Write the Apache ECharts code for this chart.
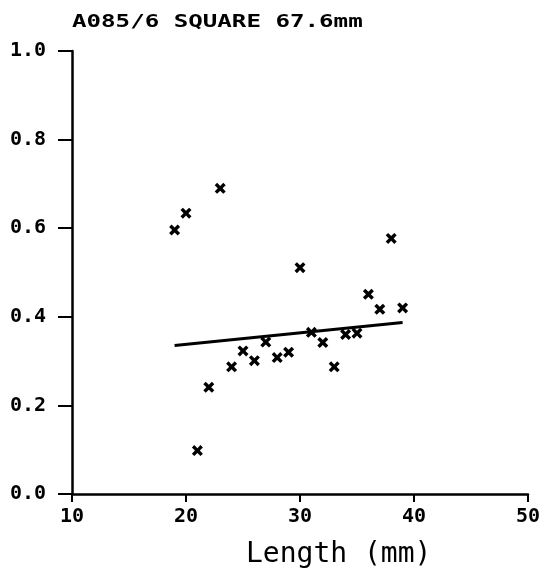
<!DOCTYPE html>
<html>
<head>
<meta charset="utf-8">
<script src="https://cdn.jsdelivr.net/npm/echarts@6/dist/echarts.min.js"></script>
<style>
html,body{margin:0;padding:0;background:#fff;}
#chart{width:551px;height:575px;}
</style>
</head>
<body>
<div id="chart"></div>
<script>
// Data
var lengths = [19, 20, 21, 22, 23, 24, 25, 26, 27, 28, 29, 30, 31, 32, 33, 34, 35, 36, 37, 38, 39];
var values  = [0.596, 0.634, 0.098, 0.241, 0.690, 0.287, 0.323, 0.301, 0.343, 0.308, 0.320, 0.511, 0.365, 0.342, 0.287, 0.360, 0.363, 0.451, 0.417, 0.577, 0.420];
var fitX = [19, 39];
var fitY = [0.335, 0.387];
var xTicks = [10, 20, 30, 40, 50];
var yTicks = [0.0, 0.2, 0.4, 0.6, 0.8, 1.0];
var titleText = 'A085/6 SQUARE 67.6mm';
var xName = 'Length (mm)';

var pts = lengths.map(function (x, i) { return [x, values[i]]; });
var fit = fitX.map(function (x, i) { return [x, fitY[i]]; });
var crossPath = 'path://M0,2.2 L2.2,0 L5,2.8 L7.8,0 L10,2.2 L7.2,5 L10,7.8 L7.8,10 L5,7.2 L2.2,10 L0,7.8 L2.8,5 Z';
var mono = 'DejaVu Sans Mono';

var chart = echarts.init(document.getElementById('chart'), null, {renderer: 'canvas'});
chart.setOption({
  backgroundColor: '#ffffff',
  animation: false,
  grid: {left: 72, right: 23, top: 51, bottom: 81},
  xAxis: {
    type: 'value', min: xTicks[0], max: xTicks[xTicks.length - 1], interval: 10,
    axisLine: {show: true, lineStyle: {color: '#000', width: 2.5}},
    axisTick: {show: true, inside: false, length: 8, lineStyle: {color: '#000', width: 2}},
    axisLabel: {color: '#000', fontFamily: mono, fontSize: 20, fontWeight: 'bold', margin: 13},
    splitLine: {show: false}
  },
  yAxis: {
    type: 'value', min: yTicks[0], max: yTicks[yTicks.length - 1], interval: 0.2,
    axisLine: {show: true, lineStyle: {color: '#000', width: 2.5}},
    axisTick: {show: true, inside: false, length: 14, lineStyle: {color: '#000', width: 2}},
    axisLabel: {color: '#000', fontFamily: mono, fontSize: 20, fontWeight: 'bold', margin: 26,
      formatter: function (v) { return v.toFixed(1); }},
    splitLine: {show: false}
  },
  graphic: [
    {type: 'text', left: 72, top: 14, scaleX: 1.42,
      style: {text: titleText, fill: '#000', font: 'bold 17px "DejaVu Sans Mono"'}},
    {type: 'text', left: 246, top: 541, scaleX: 1.0,
      style: {text: xName, fill: '#000', font: '28px "DejaVu Sans Mono"'}}
  ],
  series: [
    {
      type: 'scatter', data: pts, symbol: crossPath, symbolSize: 11,
      itemStyle: {color: '#000', opacity: 1}, z: 3
    },
    {
      type: 'line', data: fit, symbol: 'none',
      lineStyle: {color: '#000', width: 3}, z: 2
    }
  ]
});
</script>
</body>
</html>
